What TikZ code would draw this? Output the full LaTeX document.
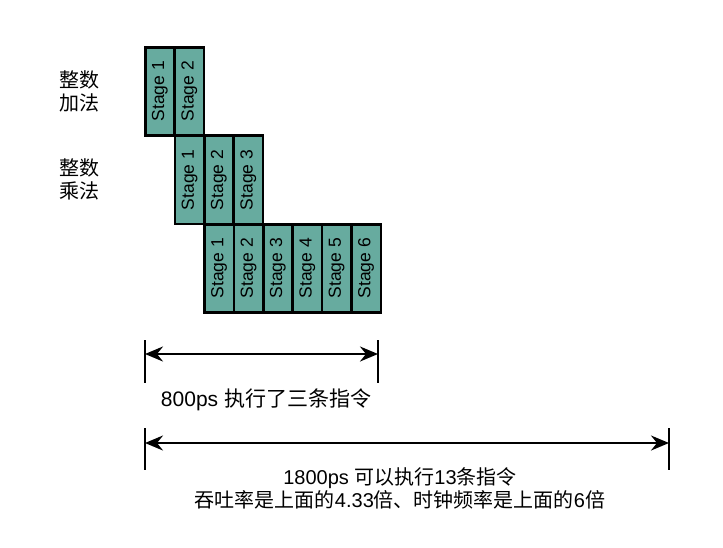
\documentclass[tikz,border=0pt]{standalone}
\usepackage{fontspec}
\usepackage{graphicx}
\setmainfont{Liberation Sans}
\newfontfamily\cjk{Noto Sans CJK SC}
\usetikzlibrary{matrix,positioning,arrows.meta}
\definecolor{stagegreen}{HTML}{67AB9F}
\tikzstyle{stagebox} = [draw=black, line width=2.6pt, fill=stagegreen, minimum width=29.4pt, minimum height=88.3pt, inner sep=0pt, font=\fontsize{17.5}{19}\selectfont]
\tikzstyle{rowlabel} = [align=center, inner sep=0pt, font=\fontsize{20}{23}\selectfont\cjk]
\tikzstyle{note} = [align=center, inner sep=0pt, font=\fontsize{20}{23}\selectfont]
\tikzstyle{endtick} = [line width=2.3pt]
\tikzstyle{timespan} = [line width=2.4pt, {Stealth[length=18pt,width=15pt,inset=6pt]}-{Stealth[length=18pt,width=15pt,inset=6pt]}]
\newcommand{\st}[1]{\rotatebox{90}{Stage #1}}

\begin{document}
\begin{tikzpicture}[x=1pt,y=-1pt]
	\useasboundingbox (0,0) rectangle (723,547);
	% one row of stages per instruction
	\matrix (add) at (143.7,45.7) [matrix of nodes, ampersand replacement=\&, nodes={stagebox},
		anchor=north west, inner sep=0pt, column sep={-2.6pt}] { \st1 \& \st2 \\ };
	\matrix (mul) at ([yshift=2.6pt]add-1-2.south west) [matrix of nodes, ampersand replacement=\&, nodes={stagebox},
		anchor=north west, inner sep=0pt, column sep={-2.6pt}] { \st1 \& \st2 \& \st3 \\ };
	\matrix (six) at ([yshift=2.6pt]mul-1-2.south west) [matrix of nodes, ampersand replacement=\&, nodes={stagebox},
		anchor=north west, inner sep=0pt, column sep={-2.6pt}] { \st1 \& \st2 \& \st3 \& \st4 \& \st5 \& \st6 \\ };
	\node [rowlabel, left=44pt of add-1-1] (addlbl) {整数\\加法};
	\node [rowlabel] (mullbl) at (addlbl |- mul-1-1) {整数\\乘法};
	% time spans
	\coordinate (shortl) at (145,354);
	\coordinate (shortr) at (378,354);
	\coordinate (longl) at (145,443);
	\coordinate (longr) at (669,443);
	\draw [endtick] ([yshift=14pt]shortl) -- ([yshift=-29pt]shortl);
	\draw [endtick] ([yshift=14pt]shortr) -- ([yshift=-29pt]shortr);
	\draw [endtick] ([yshift=15pt]longl) -- ([yshift=-27pt]longl);
	\draw [endtick] ([yshift=15pt]longr) -- ([yshift=-27pt]longr);
	\draw [timespan] (shortl) -- (shortr);
	\draw [timespan] (longl) -- (longr);
	\node [note, font=\fontsize{21}{24}\selectfont] (shorttxt) at (266,400) {800ps {\cjk 执行了三条指令}};
	\node [note] (longtxt) at (400,488.5) {1800ps {\cjk 可以执行}13{\cjk 条指令}\\{\cjk 吞吐率是上面的}4.33{\cjk 倍、时钟频率是上面的}6{\cjk 倍}};
\end{tikzpicture}
\end{document}
